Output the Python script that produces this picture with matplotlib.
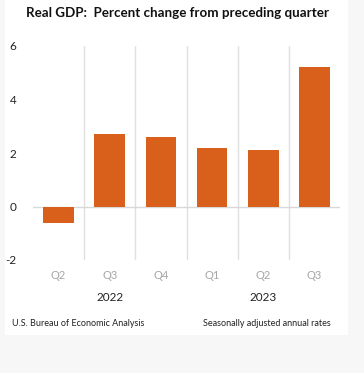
import numpy as np
import matplotlib.pyplot as plt
from matplotlib.patches import Rectangle

quarters = ["Q2", "Q3", "Q4", "Q1", "Q2", "Q3"]
years = ["2022", "2023"]
year_groups = [[0, 1, 2], [3, 4, 5]]
gdp = [-0.6, 2.7, 2.6, 2.2, 2.1, 5.2]
yticks = [-2, 0, 2, 4, 6]

plt.rcParams['font.family'] = ['Lato', 'DejaVu Sans']

fig = plt.figure(figsize=(3.64, 3.73), dpi=100)
fig.patch.set_facecolor('#f7f7f7')
fig.patches.append(Rectangle((5/364, 1-335/373), 343/364, 335/373,
                             transform=fig.transFigure, facecolor='white',
                             edgecolor='none', zorder=-10))

ax = fig.add_axes([33/364, 1-260/373, 307/364, 214/373])
ax.set_facecolor('none')
x = np.arange(len(gdp))
ax.bar(x, gdp, width=0.6, color='#d9601a', zorder=3)
ax.set_xlim(-0.5, len(gdp) - 0.5)
ax.set_ylim(-2, 6)
ax.axhline(0, color='#d9d9d9', lw=1, zorder=2)
for b in x[:-1] + 0.5:
    ax.axvline(b, color='#e0e0e0', lw=1, zorder=1)

for s in ax.spines.values():
    s.set_visible(False)
ax.set_yticks(yticks)
ax.set_yticklabels([str(t) for t in yticks], fontsize=8.5, color='#222222')
ax.tick_params(axis='y', length=0, pad=12)
ax.set_xticks(x)
ax.set_xticklabels(quarters, fontsize=8, color='#a6a6a6')
ax.tick_params(axis='x', length=0, pad=7)

for yr, grp in zip(years, year_groups):
    ax.text(np.mean(grp), -0.175, yr, transform=ax.get_xaxis_transform(),
            ha='center', va='center', fontsize=8.5, color='#222222')

fig.text(178/364, 1-13/373, "Real GDP:  Percent change from preceding quarter",
         ha='center', va='center', fontsize=9.6, fontweight='bold', color='#111111')
fig.text(12/364, 1-323/373, "U.S. Bureau of Economic Analysis",
         ha='left', va='center', fontsize=6.5, color='#222222')
fig.text(331/364, 1-323/373, "Seasonally adjusted annual rates",
         ha='right', va='center', fontsize=6.5, color='#222222')

fig.savefig('out.png', dpi=100, facecolor=fig.get_facecolor())
